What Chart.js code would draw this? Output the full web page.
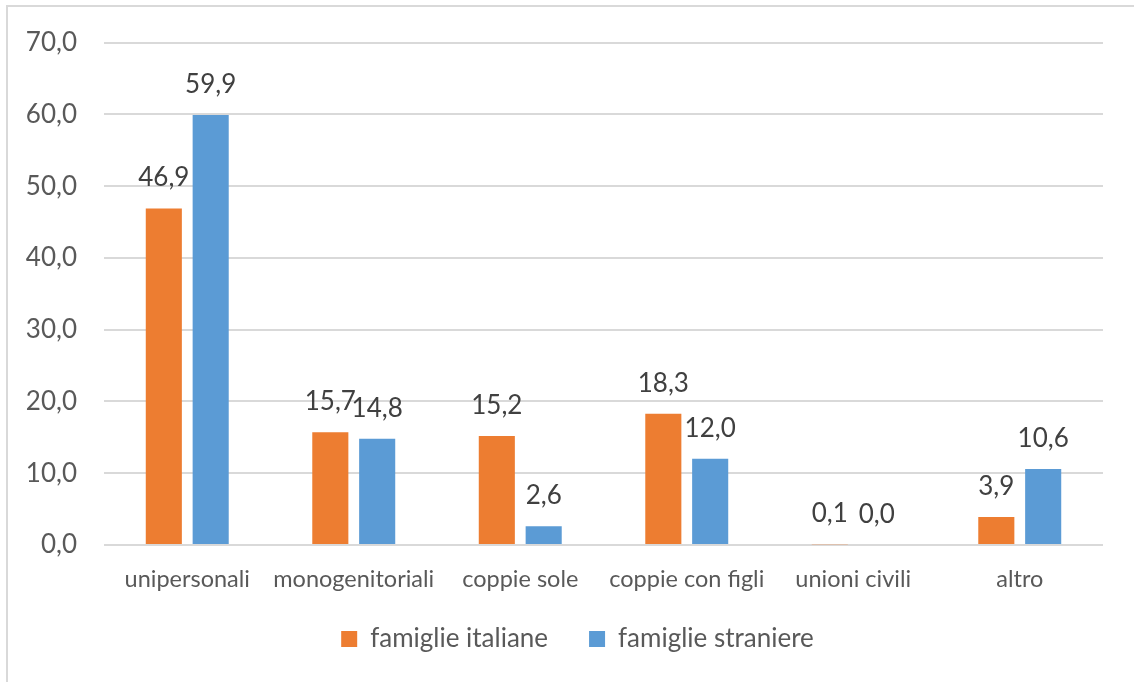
<!DOCTYPE html>
<html><head><meta charset="utf-8">
<script src="https://cdn.jsdelivr.net/npm/chart.js@4/dist/chart.umd.min.js"></script>
<style>
html,body{margin:0;padding:0;background:#fff;overflow:hidden}
#wrap{position:relative;width:1134px;height:682px;overflow:hidden}
#frame{position:absolute;left:6px;top:5px;width:1200px;height:700px;border-left:2px solid #d9d9d9;border-top:2px solid #d9d9d9}
canvas{position:absolute;left:0;top:0}
</style></head><body>
<div id="wrap"><div id="frame"></div><canvas id="c" width="1134" height="682"></canvas></div>
<script>
const categories = ['unipersonali', 'monogenitoriali', 'coppie sole', 'coppie con figli', 'unioni civili', 'altro'];
const seriesNames = ['famiglie italiane', 'famiglie straniere'];
const italiane = [46.9, 15.7, 15.2, 18.3, 0.1, 3.9];
const straniere = [59.9, 14.8, 2.6, 12.0, 0.0, 10.6];
const yMin = 0, yMax = 70, yStep = 10;

const fmt = v => Number(v).toFixed(1).replace('.', ',');
const FONT = 'Lato';

const valueLabels = {
  id: 'valueLabels',
  afterDatasetsDraw(chart) {
    const ctx = chart.ctx;
    ctx.save();
    ctx.font = '26px ' + FONT;
    ctx.fillStyle = '#404040';
    ctx.textAlign = 'center';
    ctx.textBaseline = 'alphabetic';
    chart.data.datasets.forEach((ds, i) => {
      chart.getDatasetMeta(i).data.forEach((el, j) => {
        ctx.fillText(fmt(ds.data[j]), el.x, el.y - 22);
      });
    });
    ctx.restore();
  }
};

// shift the legend so it sits where the original has it
const legendShift = {
  id: 'legendShift',
  afterLayout(chart) {
    const l = chart.legend;
    if (l) { l.left += 26; l.right += 26; l.top -= 20; l.bottom -= 20; }
  }
};

new Chart(document.getElementById('c'), {
  type: 'bar',
  data: {
    labels: categories,
    datasets: [
      { label: seriesNames[0], data: italiane, backgroundColor: '#ED7D31', categoryPercentage: 0.563, barPercentage: 0.77 },
      { label: seriesNames[1], data: straniere, backgroundColor: '#5B9BD5', categoryPercentage: 0.563, barPercentage: 0.77 }
    ]
  },
  options: {
    responsive: false,
    animation: false,
    devicePixelRatio: 1,
    layout: { padding: { left: 0, right: 31, top: 41, bottom: 0 } },
    plugins: {
      tooltip: { enabled: false },
      legend: {
        position: 'bottom',
        labels: {
          boxWidth: 16, boxHeight: 16, padding: 41,
          color: '#595959',
          font: { family: FONT, size: 26 }
        }
      }
    },
    scales: {
      x: {
        grid: { display: false, drawTicks: false },
        border: { display: false },
        ticks: { color: '#595959', font: { family: FONT, size: 23.5 }, padding: 20, maxRotation: 0, autoSkip: false },
        afterFit(s) { s.height = 60; }
      },
      y: {
        min: yMin, max: yMax,
        ticks: { stepSize: yStep, padding: 27, color: '#595959', font: { family: FONT, size: 26 }, callback: v => fmt(v) },
        grid: { color: '#d9d9d9', lineWidth: 2, drawTicks: false },
        border: { display: false },
        afterFit(s) { s.width = 104; }
      }
    }
  },
  plugins: [valueLabels, legendShift]
});
</script>
</body></html>
